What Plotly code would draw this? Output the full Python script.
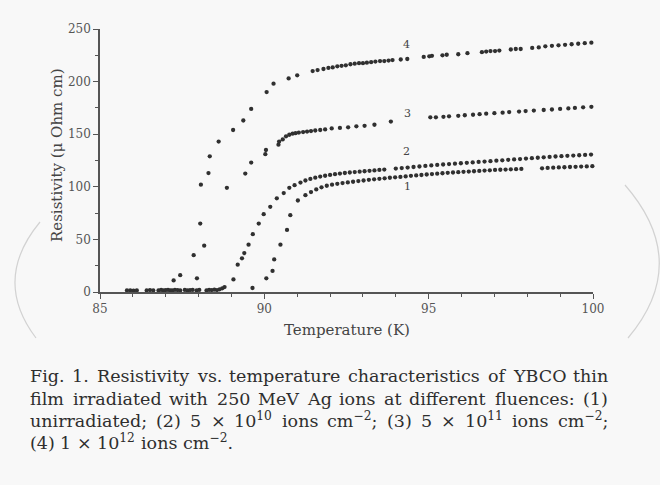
import plotly.graph_objects as go

# ---------------- data ----------------
# flat, superconducting part (assigned to the curve whose transition follows)
T4_flat = [85.82, 85.92, 86.02, 86.12, 86.42, 86.52, 86.62, 86.78, 86.86, 86.93, 87.00, 87.07, 87.14]
R4_flat = [1.5, 1.5, 1.2, 1.5, 1.5, 1.8, 1.5, 1.5, 2.0, 1.5, 1.8, 2.0, 1.5]
T3_flat = [87.20, 87.28, 87.36, 87.44, 87.58, 87.66, 87.74, 87.82]
R3_flat = [1.5, 2.0, 1.8, 1.5, 2.0, 1.5, 1.8, 2.0]
T2_flat = [87.94, 88.02, 88.24, 88.32, 88.40, 88.48, 88.56, 88.64, 88.72, 88.79]
R2_flat = [1.5, 2.0, 1.5, 2.0, 1.8, 2.2, 1.8, 2.5, 3.5, 4.7]

# (4) 1e12 ions cm^-2
T4 = [87.24, 87.44, 87.85, 88.05, 88.07, 88.30, 88.34, 88.61, 89.05, 89.36,
      89.60, 90.07, 90.28, 90.74, 91.00, 91.47, 91.62, 91.80, 91.95, 92.08,
      92.22, 92.35, 92.48, 92.62, 92.75, 92.88, 93.00, 93.12, 93.25, 93.38,
      93.52, 93.65, 93.78, 93.90, 94.15, 94.35, 94.85, 95.02, 95.10, 95.42,
      95.55, 95.90, 96.18, 96.62, 96.75, 96.88, 97.02, 97.15, 97.50, 97.65,
      97.80, 98.15, 98.35, 98.55, 98.75, 98.95, 99.15, 99.35, 99.55, 99.75, 99.95]
R4 = [11, 16, 35, 65, 102, 113, 129, 143, 154, 163,
      174, 190, 198, 203, 206, 210, 211, 212, 213, 213.5,
      214.5, 215, 215.5, 216.5, 217, 217.5, 217.5, 218, 218.5, 219,
      219.5, 219.5, 220, 220.5, 221, 221.5, 223.5, 224, 224.5, 225,
      225.5, 226, 227, 228, 228.5, 229, 229, 229.5, 230.5, 231,
      231, 232, 232.5, 233.5, 234, 234.5, 235, 235.5, 236, 236.5, 237]

# (3) 5e11 ions cm^-2
T3 = [87.95, 88.17, 88.86, 89.42, 89.60, 90.03, 90.05, 90.43, 90.45, 90.56,
      90.66, 90.76, 90.86, 90.95, 91.05, 91.18, 91.30, 91.42, 91.55, 91.70,
      91.85, 92.05, 92.30, 92.55, 92.80, 93.05, 93.35, 93.85, 95.05, 95.22,
      95.45, 95.62, 95.90, 96.10, 96.35, 96.55, 96.75, 97.00, 97.25, 97.45,
      97.75, 97.95, 98.20, 98.50, 98.75, 99.00, 99.25, 99.45, 99.70, 99.95]
R3 = [13, 44, 99, 112.6, 123, 131, 135, 140, 143, 145,
      148, 149.5, 150.5, 151, 151.5, 152, 152.5, 153, 153.5, 154,
      154.5, 155.5, 156, 156.5, 157.5, 158, 159, 162, 166, 166,
      166.5, 167, 167.5, 168, 168.5, 169, 169.5, 170, 170.5, 171,
      171.5, 172, 172.5, 173, 173.5, 174, 174.5, 175, 175.5, 176]

# (2) 5e10 ions cm^-2
T2 = [89.06, 89.19, 89.32, 89.39, 89.52, 89.65, 89.83, 89.98, 90.18, 90.38,
      90.59, 90.76, 90.92, 91.10, 91.25, 91.40, 91.55, 91.70, 91.85, 92.00,
      92.15, 92.30, 92.45, 92.60, 92.75, 92.90, 93.05, 93.20, 93.35, 93.50,
      93.65, 94.00, 94.18, 94.36, 94.54, 94.72, 94.90, 95.08, 95.26, 95.44,
      95.62, 95.80, 95.98, 96.16, 96.34, 96.52, 96.70, 96.88, 97.06, 97.24,
      97.42, 97.60, 97.78, 97.96, 98.14, 98.32, 98.50, 98.68, 98.86, 99.04,
      99.22, 99.40, 99.58, 99.76, 99.94]
R2 = [12, 26, 32, 37, 45, 55, 65, 74, 81, 89,
      94, 99, 101.5, 104, 106, 107.5, 108.7, 109.7, 110.5, 111.3,
      112, 112.6, 113.1, 113.6, 114, 114.4, 114.8, 115.2, 115.6, 116,
      116.4, 117.3, 117.8, 118.3, 118.8, 119.3, 119.8, 120.3, 120.8, 121.2,
      121.6, 122, 122.4, 122.8, 123.2, 123.6, 124, 124.4, 124.8, 125.2,
      125.6, 126, 126.4, 126.8, 127.2, 127.6, 128, 128.4, 128.8, 129.1,
      129.4, 129.7, 130, 130.3, 130.6]

# (1) unirradiated
T1 = [89.64, 90.06, 90.25, 90.30, 90.49, 90.69, 90.79, 91.02, 91.25, 91.42,
      91.58, 91.74, 91.90, 92.06, 92.22, 92.38, 92.54, 92.70, 92.86, 93.02,
      93.18, 93.34, 93.50, 93.66, 93.82, 93.98, 94.14, 94.30, 94.46, 94.62,
      94.78, 94.94, 95.10, 95.26, 95.42, 95.58, 95.74, 95.90, 96.06, 96.22,
      96.38, 96.54, 96.70, 96.86, 97.02, 97.18, 97.34, 97.50, 97.66, 97.82,
      98.45, 98.62, 98.79, 98.96, 99.13, 99.30, 99.47, 99.64, 99.81, 99.98]
R1 = [3.8, 13, 20, 31, 45, 59, 73, 87, 92, 95,
      97.5, 99.5, 101, 102, 102.8, 103.5, 104.2, 104.8, 105.4, 106,
      106.6, 107.1, 107.6, 108.1, 108.6, 109, 109.4, 109.9, 110.4, 110.8,
      111.2, 111.7, 112.1, 112.5, 112.9, 113.3, 113.6, 113.9, 114.2, 114.5,
      114.8, 115.1, 115.4, 115.7, 116, 116.2, 116.4, 116.6, 116.8, 117,
      117.6, 117.9, 118.2, 118.4, 118.6, 118.8, 119, 119.2, 119.4, 119.6]

curve_labels = ["1", "2", "3", "4"]
label_T = [94.35, 94.33, 94.35, 94.33]
label_R = [100, 133.5, 170, 235.5]

x_ticks = [85, 90, 95, 100]
y_ticks = [0, 50, 100, 150, 200, 250]

caption_lines = [
    ["Fig.", "1.", "Resistivity", "vs.", "temperature", "characteristics", "of", "YBCO", "thin"],
    ["film", "irradiated", "with", "250", "MeV", "Ag", "ions", "at", "different", "fluences:", "(1)"],
    ["unirradiated;", "(2)", "5", "×", "10<sup>10</sup>", "ions", "cm<sup>−2</sup>;", "(3)", "5", "×",
     "10<sup>11</sup>", "ions", "cm<sup>−2</sup>;"],
    ["(4)", "1", "×", "10<sup>12</sup>", "ions", "cm<sup>−2</sup>."],
]
caption_justify = [True, True, True, False]

# ---------------- layout helpers ----------------
W, H = 660, 485
PL, PR, PT, PB = 100, 593, 29, 292
SERIF = "DejaVu Serif"
INK = "#303030"
AX = "#555555"
BG = "#f8f8f8"


def px_x(px):
    return (px - PL) / (PR - PL)


def px_y(py):
    return (PB - py) / (PB - PT)


# approximate glyph advance widths (em) for the serif font
GW = {' ': 0.318, '(': 0.390, ')': 0.390, '.': 0.318, ',': 0.318, ';': 0.337, ':': 0.337,
      '×': 0.838, '−': 0.838,
      'a': 0.596, 'b': 0.640, 'c': 0.560, 'd': 0.640, 'e': 0.592, 'f': 0.370, 'g': 0.640,
      'h': 0.644, 'i': 0.320, 'l': 0.320, 'm': 0.948, 'n': 0.644, 'o': 0.602, 'r': 0.478,
      's': 0.513, 't': 0.402, 'u': 0.644, 'v': 0.565, 'w': 0.856, 'y': 0.565,
      'A': 0.722, 'B': 0.735, 'C': 0.765, 'F': 0.684, 'M': 0.995, 'O': 0.820, 'R': 0.770,
      'V': 0.722, 'Y': 0.667}
for d in "0123456789":
    GW[d] = 0.636


def word_width(word, size):
    total = 0.0
    scale = 1.0
    i = 0
    while i < len(word):
        if word.startswith("<sup>", i):
            scale = 0.7
            i += 5
            continue
        if word.startswith("</sup>", i):
            scale = 1.0
            i += 6
            continue
        total += GW.get(word[i], 0.6) * scale
        i += 1
    return total * size


fig = go.Figure()

series = [
    (T4_flat + T4, R4_flat + R4),
    (T3_flat + T3, R3_flat + R3),
    (T2_flat + T2, R2_flat + R2),
    (T1, R1),
]
for tx, ry in series:
    fig.add_trace(go.Scatter(
        x=tx, y=ry, mode="markers",
        marker=dict(symbol="circle", size=4.3, color=INK, line=dict(width=0)),
        cliponaxis=False, showlegend=False, hoverinfo="skip"))

for lab, lt, lr in zip(curve_labels, label_T, label_R):
    fig.add_annotation(x=lt, y=lr, xref="x", yref="y", text=lab, showarrow=False,
                       xanchor="center", yanchor="middle",
                       font=dict(family=SERIF, size=11, color="#444444"))

# axis titles
fig.add_annotation(x=px_x(347), y=px_y(330), xref="paper", yref="paper",
                   text="Temperature (K)", showarrow=False,
                   xanchor="center", yanchor="middle",
                   font=dict(family=SERIF, size=15, color="#444444"))
fig.add_annotation(x=px_x(57), y=px_y(155), xref="paper", yref="paper",
                   text="Resistivity (\u03bc Ohm cm)", showarrow=False, textangle=-90,
                   xanchor="center", yanchor="middle",
                   font=dict(family=SERIF, size=15, color="#444444"))

# caption, justified word by word
CAP_SIZE = 17.5
cap_left, cap_right = 30, 608
cap_base = [386, 408.5, 431, 453.5]
for words, just, yb in zip(caption_lines, caption_justify, cap_base):
    widths = [word_width(w, CAP_SIZE) for w in words]
    if just and len(words) > 1:
        gap = (cap_right - cap_left - sum(widths)) / (len(words) - 1)
    else:
        gap = GW[' '] * CAP_SIZE
    xcur = cap_left
    for w, wd in zip(words, widths):
        fig.add_annotation(x=px_x(xcur), y=px_y(yb), xref="paper", yref="paper",
                           text=w, showarrow=False, xanchor="left", yanchor="bottom",
                           borderpad=0, borderwidth=0,
                           font=dict(family=SERIF, size=CAP_SIZE, color="#2e2e2e"))
        xcur += wd + gap

# faint page-curl arcs of the scan
arc_paths = [((40, 222), (-8, 280), (36, 338)), ((625, 185), (692, 262), (628, 338))]
for (a, c, b) in arc_paths:
    fig.add_shape(type="path", xref="paper", yref="paper",
                  path=f"M {px_x(a[0])},{px_y(a[1])} Q {px_x(c[0])},{px_y(c[1])} {px_x(b[0])},{px_y(b[1])}",
                  line=dict(color="#d2d2d2", width=1.2), layer="below")

axis_common = dict(showgrid=False, zeroline=False, showline=True, linecolor=AX, linewidth=1.5,
                   tickcolor=AX, tickwidth=1.2)

fig.update_layout(
    width=W, height=H, autosize=False,
    margin=dict(l=PL, r=W - PR, t=PT, b=H - PB, pad=0),
    paper_bgcolor=BG, plot_bgcolor=BG,
    showlegend=False,
    xaxis=dict(range=[85, 100], tickvals=x_ticks, ticks="outside", ticklen=5,
               minor=dict(dtick=1, tick0=85, ticks="outside", ticklen=3, tickcolor=AX),
               tickfont=dict(family=SERIF, size=12, color="#555555"),
               **axis_common),
    yaxis=dict(range=[0, 250], tickvals=y_ticks, ticks="outside", ticklen=5,
               minor=dict(dtick=25, tick0=0, ticks="outside", ticklen=3, tickcolor=AX),
               tickfont=dict(family=SERIF, size=12, color="#555555"),
               **axis_common),
    xaxis2=dict(range=[85, 100], overlaying="x", side="top", anchor="y", tickvals=x_ticks,
                ticks="inside", ticklen=5, showticklabels=False,
                minor=dict(dtick=1, tick0=85, ticks="inside", ticklen=3, tickcolor=AX),
                **axis_common),
    yaxis2=dict(range=[0, 250], overlaying="y", side="right", anchor="x", tickvals=y_ticks,
                ticks="inside", ticklen=5, showticklabels=False,
                minor=dict(dtick=25, tick0=0, ticks="inside", ticklen=3, tickcolor=AX),
                **axis_common),
)

fig.write_html("out.html")
